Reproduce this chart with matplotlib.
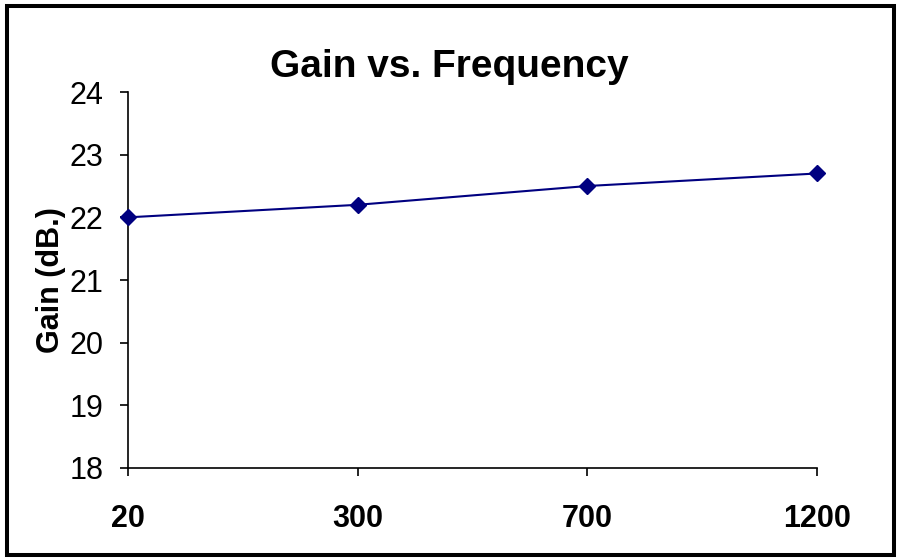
import matplotlib.pyplot as plt
from matplotlib.patches import Rectangle

plt.rcParams['font.family'] = ['Liberation Sans', 'DejaVu Sans']

# 데이터
freq_labels = ['20', '300', '700', '1200']
gain_db = [22.0, 22.2, 22.5, 22.7]
y_ticks = [18, 19, 20, 21, 22, 23, 24]

fig = plt.figure(figsize=(8.99, 5.58), dpi=100)
ax = fig.add_axes([0.1424, 0.1613, 0.7664, 0.6738])

x = list(range(len(freq_labels)))
ax.plot(x, gain_db, color='#000080', linewidth=1.5, marker='D', markersize=8,
        clip_on=False, zorder=5)

ax.set_xlim(0, len(freq_labels) - 1)
ax.set_ylim(18, 24)
ax.set_xticks(x)
ax.set_xticklabels(freq_labels, fontsize=22, fontweight='bold')
ax.set_yticks(y_ticks)
ax.set_yticklabels([str(v) for v in y_ticks], fontsize=22)

for side in ['top', 'right']:
    ax.spines[side].set_visible(False)
for side in ['left', 'bottom']:
    ax.spines[side].set_linewidth(1.2)
ax.tick_params(direction='out', length=6, width=1.2)
ax.tick_params(axis='y', pad=11.5)
ax.tick_params(axis='x', pad=20)

ax.set_ylabel('Gain (dB.)', fontsize=22, fontweight='bold', labelpad=3)
fig.text(0.5, 0.862, 'Gain vs. Frequency', fontsize=28, fontweight='bold',
         ha='center', va='baseline')

# 바깥 테두리
fig.patches.append(Rectangle((0.0078, 0.0054), 0.9861, 0.9838, transform=fig.transFigure,
                             fill=False, edgecolor='black', linewidth=2.9))

plt.savefig('out.png', dpi=100)
